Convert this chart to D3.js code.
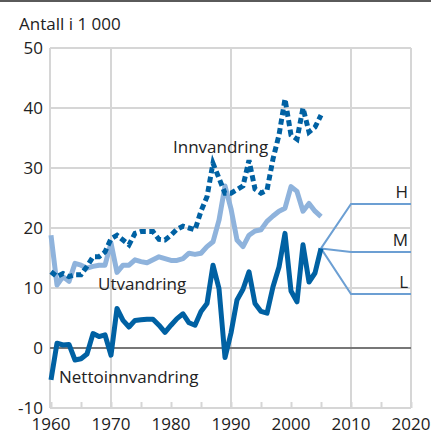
<!DOCTYPE html>
<html>
<head>
<meta charset="utf-8">
<script src="https://cdn.jsdelivr.net/npm/d3@7"></script>
<style>
  html, body { margin: 0; padding: 0; background: #fff; }
  svg { display: block; }
  text { font-family: "Open Sans", "DejaVu Sans", sans-serif; fill: #222; }
</style>
</head>
<body>
<svg id="chart" width="431" height="434"></svg>
<script>
const years = d3.range(1960, 2006);
const innvandring = [12.7, 11.9, 12.4, 11.9, 12.2, 12.2, 13.6, 15.2, 15.2, 16.0,
  18.2, 18.8, 18.0, 17.2, 19.1, 19.4, 19.4, 19.4, 18.1, 18.0,
  18.8, 19.8, 20.3, 20.0, 19.7, 22.8, 25.2, 30.8, 28.3, 25.8,
  25.8, 26.4, 27.0, 31.3, 26.5, 25.8, 26.3, 31.5, 35.5, 41.5,
  35.5, 34.8, 40.0, 36.0, 36.8, 38.8];
const utvandring = [18.8, 10.5, 11.9, 11.1, 14.1, 13.8, 13.3, 13.6, 13.8, 13.8,
  17.5, 12.6, 13.8, 13.8, 14.7, 14.4, 14.2, 14.7, 15.2, 14.9,
  14.6, 14.6, 14.9, 15.8, 15.6, 15.8, 16.9, 17.7, 21.3, 27.0,
  23.2, 18.0, 16.9, 18.8, 19.5, 19.7, 21.1, 22.0, 22.8, 23.3,
  26.9, 26.1, 22.8, 24.1, 22.8, 21.9];
const netto = [-5.3, 0.8, 0.5, 0.6, -2.0, -1.8, -1.0, 2.4, 1.9, 2.2,
  -1.2, 6.6, 4.6, 3.5, 4.6, 4.7, 4.8, 4.8, 3.8, 2.6,
  3.8, 4.9, 5.7, 4.2, 3.8, 6.1, 7.4, 13.8, 9.9, -1.6,
  2.5, 8.0, 9.8, 12.7, 7.4, 6.1, 5.8, 10.2, 13.5, 19.1,
  9.5, 7.7, 17.2, 11.0, 12.5, 16.6];
const projYears = [2005, 2010, 2020];
const projNames = ["H", "M", "L"];
const projH = [16.6, 24, 24];
const projM = [16.6, 16, 16];
const projL = [16.6, 9, 9];
const yTicks = [-10, 0, 10, 20, 30, 40, 50];
const xTicks = [1960, 1970, 1980, 1990, 2000, 2010, 2020];

const svg = d3.select("#chart");
const x = d3.scaleLinear().domain([1960, 2020]).range([51, 411]);
const y = d3.scaleLinear().domain([-10, 50]).range([408, 48]);

// top rule
svg.append("rect").attr("x", 0).attr("y", 0).attr("width", 431).attr("height", 2).attr("fill", "#5a5a5a");

const grid = "#d6d6d6";
// horizontal grid
svg.append("g").selectAll("line").data(yTicks.filter(d => d !== 0)).join("line")
  .attr("x1", x(1960) - 1).attr("x2", x(2020)).attr("y1", d => y(d)).attr("y2", d => y(d))
  .attr("stroke", grid).attr("stroke-width", 2);
// vertical grid every 20 years + borders
svg.append("g").selectAll("line").data([1960, 1970, 1990, 2010, 2020]).join("line")
  .attr("x1", d => x(d) - (d === 1960 ? 1 : 0)).attr("x2", d => x(d) - (d === 1960 ? 1 : 0))
  .attr("y1", y(50)).attr("y2", y(-10))
  .attr("stroke", grid).attr("stroke-width", 2);

// x axis minor ticks
const xAxis = d3.axisBottom(x).tickValues(d3.range(1960, 2021, 5)).tickSize(-6).tickFormat("");
const gx = svg.append("g").attr("transform", `translate(0,${y(-10)})`).call(xAxis);
gx.select(".domain").remove();
gx.selectAll(".tick line").attr("stroke", grid).attr("stroke-width", 2);

// x labels
svg.append("g").selectAll("text").data(xTicks).join("text")
  .attr("x", d => x(d)).attr("y", 430).attr("text-anchor", "middle")
  .attr("font-size", 17).text(d => d);
// y labels
svg.append("g").selectAll("text").data(yTicks).join("text")
  .attr("x", 43).attr("y", d => y(d) + 6).attr("text-anchor", "end")
  .attr("font-size", 17).text(d => d);

// zero line
svg.append("line").attr("x1", x(1960) - 1).attr("x2", x(2020)).attr("y1", y(0)).attr("y2", y(0))
  .attr("stroke", "#777").attr("stroke-width", 2);

svg.append("text").attr("x", 19).attr("y", 30).attr("font-size", 17).text("Antall i 1 000");

const line = d3.line().x((d, i) => x(years[i])).y(d => y(d));
const pline = d3.line().x((d, i) => x(projYears[i])).y(d => y(d));

// projections
const projColor = "#6c9fd3";
[projH, projM, projL].forEach((arr) => {
  svg.append("path").attr("d", pline(arr)).attr("fill", "none")
    .attr("stroke", projColor).attr("stroke-width", 2);
});
[projH, projM, projL].forEach((arr, i) => {
  svg.append("text").attr("x", 408).attr("y", y(arr[2]) - 6).attr("text-anchor", "end")
    .attr("font-size", 17).text(projNames[i]);
});

svg.append("path").attr("d", line(utvandring)).attr("fill", "none")
  .attr("stroke", "#8fb3dc").attr("stroke-width", 5).attr("stroke-linejoin", "round");
svg.append("path").attr("d", line(innvandring)).attr("fill", "none")
  .attr("stroke", "#0061a3").attr("stroke-width", 5).attr("stroke-dasharray", "6,3.5");
svg.append("path").attr("d", line(netto)).attr("fill", "none")
  .attr("stroke", "#0061a3").attr("stroke-width", 5).attr("stroke-linejoin", "round");

svg.append("text").attr("x", 173).attr("y", 153).attr("font-size", 17).text("Innvandring");
svg.append("text").attr("x", 98).attr("y", 290).attr("font-size", 17).text("Utvandring");
svg.append("text").attr("x", 59).attr("y", 383).attr("font-size", 17).text("Nettoinnvandring");
</script>
</body>
</html>
